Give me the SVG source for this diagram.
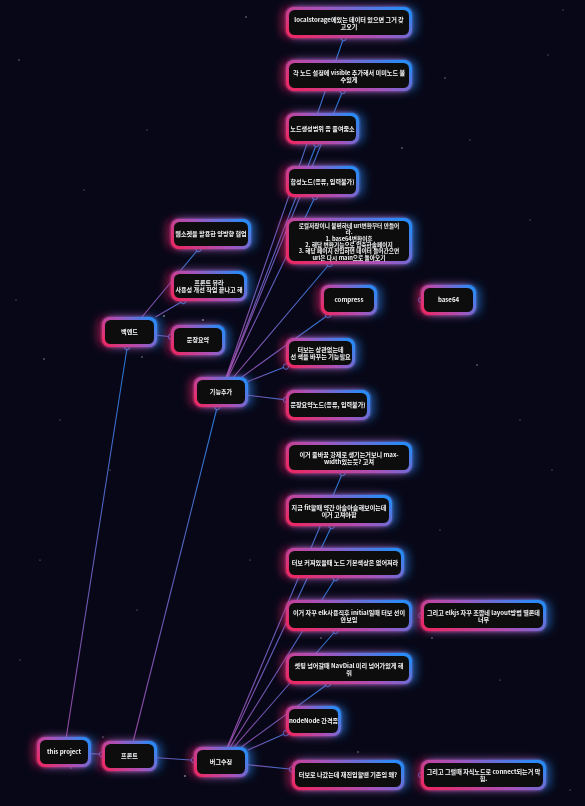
<svg xmlns="http://www.w3.org/2000/svg" width="585" height="806" viewBox="0 0 585 806">
<defs>
<style>
.bd{fill:url(#nb)}
.in{fill:#111}
.t{font-family:"Noto Sans CJK KR","Noto Sans",sans-serif;font-size:6.1px;font-weight:700;fill:#f3f4f6;text-anchor:middle}
.tm{font-size:5.7px}
.e{stroke:url(#eg);stroke-width:1.1;stroke-opacity:.85;fill:none;marker-end:url(#hc)}
.h{fill:#0b0b14;stroke:#2a8af6;stroke-opacity:.8;stroke-width:1}
.node{filter:url(#glow)}
.s{fill:#8a8a9a}
</style>
<linearGradient id="nb" x1="0" y1="0.75" x2="1" y2="0.25">
<stop offset="0" stop-color="#e92a67"/>
<stop offset="0.5" stop-color="#a853ba"/>
<stop offset="1" stop-color="#2a8af6"/>
</linearGradient>
<linearGradient id="eg" x1="0" y1="0" x2="1" y2="0">
<stop offset="0" stop-color="#ae53ba"/>
<stop offset="1" stop-color="#2a8af6"/>
</linearGradient>
<marker id="hc" viewBox="-5 -5 10 10" refX="0" refY="0" markerUnits="userSpaceOnUse" markerWidth="10" markerHeight="10" orient="auto">
<circle r="2.6" fill="#0b0b14" stroke="#2a8af6" stroke-opacity=".8" stroke-width="1"/>
</marker>
<filter id="glow" x="-40%" y="-80%" width="180%" height="260%">
<feGaussianBlur in="SourceAlpha" stdDeviation="4" result="b"/>
<feOffset in="b" dx="-5" result="bl"/>
<feFlood flood-color="#e92a67" flood-opacity="0.5"/>
<feComposite in2="bl" operator="in" result="pink"/>
<feOffset in="b" dx="5" result="br"/>
<feFlood flood-color="#2a8af6" flood-opacity="0.5"/>
<feComposite in2="br" operator="in" result="blue"/>
<feGaussianBlur in="SourceGraphic" stdDeviation="1.5" result="w"/>
<feMerge><feMergeNode in="pink"/><feMergeNode in="blue"/><feMergeNode in="w"/><feMergeNode in="SourceGraphic"/></feMerge>
</filter>
</defs>
<rect width="585" height="806" fill="#070717"/>
<g id="stars">
<circle class="s" cx="246" cy="17" r="0.8"/><circle class="s" cx="19" cy="60" r="0.7"/><circle class="s" cx="445" cy="78" r="0.7"/>
<circle class="s" cx="402" cy="148" r="0.8"/><circle class="s" cx="44" cy="359" r="0.8"/><circle class="s" cx="164" cy="316" r="0.9"/>
<circle class="s" cx="142" cy="357" r="0.8"/><circle class="s" cx="203" cy="320" r="0.9"/><circle class="s" cx="477" cy="365" r="0.8"/>
<circle class="s" cx="321" cy="638" r="0.8"/><circle class="s" cx="432" cy="638" r="0.8"/><circle class="s" cx="103" cy="737" r="0.7"/>
<circle class="s" cx="71" cy="768" r="0.7"/><circle class="s" cx="185" cy="776" r="0.9"/><circle class="s" cx="358" cy="752" r="0.8"/>
<circle class="s" cx="563" cy="10" r="0.6"/><circle class="s" cx="548" cy="55" r="0.6"/><circle class="s" cx="470" cy="140" r="0.6"/>
<circle class="s" cx="147" cy="130" r="0.6"/><circle class="s" cx="84" cy="190" r="0.6"/><circle class="s" cx="530" cy="220" r="0.6"/>
<circle class="s" cx="16" cy="300" r="0.6"/><circle class="s" cx="110" cy="470" r="0.6"/><circle class="s" cx="552" cy="470" r="0.6"/>
<circle class="s" cx="40" cy="560" r="0.6"/><circle class="s" cx="137" cy="610" r="0.6"/><circle class="s" cx="500" cy="680" r="0.6"/>
<circle class="s" cx="570" cy="790" r="0.6"/><circle class="s" cx="520" cy="420" r="0.6"/><circle class="s" cx="60" cy="420" r="0.6"/>
<circle class="s" cx="250" cy="560" r="0.6"/><circle class="s" cx="440" cy="530" r="0.6"/><circle class="s" cx="20" cy="660" r="0.6"/>
</g>
<g id="connectors">
<line class="e" x1="66.3" y1="737" x2="127.2" y2="347"/>
<line class="e" x1="91" y1="753.6" x2="102" y2="754.3"/>
<line class="e" x1="157" y1="757.8" x2="194" y2="760.2"/>
<line class="e" x1="133.3" y1="741" x2="217.2" y2="407"/>
<line class="e" x1="142" y1="317" x2="198.5" y2="249"/>
<line class="e" x1="155.4" y1="317" x2="183.1" y2="301"/>
<line class="e" x1="157" y1="335.2" x2="171" y2="336.8"/>
<line class="e" x1="226.2" y1="377" x2="343.6" y2="38"/>
<line class="e" x1="227.1" y1="377" x2="342.7" y2="91"/>
<line class="e" x1="226.8" y1="377" x2="316.5" y2="144"/>
<line class="e" x1="228.2" y1="377" x2="315" y2="197"/>
<line class="e" x1="233.7" y1="377" x2="329.5" y2="264"/>
<line class="e" x1="241.9" y1="377" x2="328.1" y2="315"/>
<line class="e" x1="248" y1="381.4" x2="286" y2="366.5"/>
<line class="e" x1="248" y1="395.3" x2="286" y2="399.9"/>
<circle class="h" cx="421" cy="300" r="2.6"/>
<line class="e" x1="227.3" y1="747" x2="342.5" y2="473"/>
<line class="e" x1="228" y1="747" x2="331.7" y2="526"/>
<line class="e" x1="230.3" y1="747" x2="335.6" y2="578"/>
<line class="e" x1="234.1" y1="747" x2="335.5" y2="631"/>
<line class="e" x1="241.5" y1="747" x2="327.8" y2="684"/>
<line class="e" x1="248" y1="750" x2="286" y2="733.2"/>
<line class="e" x1="248" y1="764.8" x2="292" y2="769.3"/>
<circle class="h" cx="421" cy="615.5" r="2.6"/>
<circle class="h" cx="421" cy="775" r="2.6"/>
</g>
<g id="n-localstorage" class="node" transform="translate(286,7)"><rect class="bd" width="126" height="31" rx="8"/><rect class="in" x="3" y="3" width="120" height="25" rx="5.5"/><text class="t"><tspan x="63" y="14.7">localstorage에있는 데이터 있으면 그거 갖</tspan><tspan x="63" y="22">고오기</tspan></text></g>
<g id="n-visible" class="node" transform="translate(286,60)"><rect class="bd" width="126" height="31" rx="8"/><rect class="in" x="3" y="3" width="120" height="25" rx="5.5"/><text class="t"><tspan x="63" y="14.7">각 노드 설정에 visible 추가해서 미미노드 볼</tspan><tspan x="63" y="22">수있게</tspan></text></g>
<g id="n-range" class="node" transform="translate(286,113)"><rect class="bd" width="73" height="31" rx="8"/><rect class="in" x="3" y="3" width="67" height="25" rx="5.5"/><text class="t" x="36.5" y="17.8">노드생성범위 좀 줄여줌소</text></g>
<g id="n-composite" class="node" transform="translate(286,166)"><rect class="bd" width="73" height="31" rx="8"/><rect class="in" x="3" y="3" width="67" height="25" rx="5.5"/><text class="t" x="36.5" y="17.8">합성노드(종류, 입력불가)</text></g>
<g id="n-url" class="node" transform="translate(286,218)"><rect class="bd" width="126" height="46" rx="8"/><rect class="in" x="3" y="3" width="120" height="40" rx="5.5"/><text class="t tm"><tspan x="63" y="9.8">로컬저장이니 불편하네 url변환부터 만들어</tspan><tspan x="63" y="16.2">라.</tspan><tspan x="63" y="22.6">1. base64변환이후</tspan><tspan x="63" y="29">2. 해당 변환기능으로 압축한솔페이지</tspan><tspan x="63" y="35.4">3. 해당 페이지 진입하면 데이터 들어간으면</tspan><tspan x="63" y="41.8">url은 다시 main으로 돌아오기</tspan></text></g>
<g id="n-compress" class="node" transform="translate(321,285)"><rect class="bd" width="56" height="30" rx="8"/><rect class="in" x="3" y="3" width="50" height="24" rx="5.5"/><text class="t" x="28" y="17.3">compress</text></g>
<g id="n-base64" class="node" transform="translate(421,285)"><rect class="bd" width="55" height="30" rx="8"/><rect class="in" x="3" y="3" width="49" height="24" rx="5.5"/><text class="t" x="27.5" y="17.3">base64</text></g>
<g id="n-linecolor" class="node" transform="translate(286,338)"><rect class="bd" width="69" height="30" rx="8"/><rect class="in" x="3" y="3" width="63" height="24" rx="5.5"/><text class="t"><tspan x="34.5" y="14">터보는 상관없는데</tspan><tspan x="34.5" y="21.2">선 색을 바꾸는 기능필요</tspan></text></g>
<g id="n-summarynode" class="node" transform="translate(286,390)"><rect class="bd" width="84" height="30" rx="8"/><rect class="in" x="3" y="3" width="78" height="24" rx="5.5"/><text class="t" x="42" y="17.3">문장요약노드(종류, 입력불가)</text></g>
<g id="n-websocket" class="node" transform="translate(171,219)"><rect class="bd" width="80" height="30" rx="8"/><rect class="in" x="3" y="3" width="74" height="24" rx="5.5"/><text class="t" x="40" y="17.3">웹소켓을 활용한 양방향 협업</text></g>
<g id="n-frontview" class="node" transform="translate(171,271)"><rect class="bd" width="76" height="30" rx="8"/><rect class="in" x="3" y="3" width="70" height="24" rx="5.5"/><text class="t"><tspan x="38" y="14">프론트 뷰라</tspan><tspan x="38" y="21.2">사용성 개선 작업 끝나고 해</tspan></text></g>
<g id="n-summary" class="node" transform="translate(171,325)"><rect class="bd" width="54" height="30" rx="8"/><rect class="in" x="3" y="3" width="48" height="24" rx="5.5"/><text class="t" x="27" y="17.3">문장요약</text></g>
<g id="n-backend" class="node" transform="translate(102,317)"><rect class="bd" width="55" height="30" rx="8"/><rect class="in" x="3" y="3" width="49" height="24" rx="5.5"/><text class="t" x="27.5" y="17.3">백엔드</text></g>
<g id="n-features" class="node" transform="translate(194,377)"><rect class="bd" width="54" height="30" rx="8"/><rect class="in" x="3" y="3" width="48" height="24" rx="5.5"/><text class="t" x="27" y="17.3">기능추가</text></g>
<g id="n-maxwidth" class="node" transform="translate(286,442)"><rect class="bd" width="126" height="31" rx="8"/><rect class="in" x="3" y="3" width="120" height="25" rx="5.5"/><text class="t"><tspan x="63" y="14.7">이거 줄바꿈 강제로 생기는거보니 max-</tspan><tspan x="63" y="22">width있는듯? 고쳐</tspan></text></g>
<g id="n-fit" class="node" transform="translate(286,495)"><rect class="bd" width="106" height="31" rx="8"/><rect class="in" x="3" y="3" width="100" height="25" rx="5.5"/><text class="t"><tspan x="53" y="14.7">지금 fit할때 약간 아슬아슬해보이는데</tspan><tspan x="53" y="22">이거 고쳐야함</tspan></text></g>
<g id="n-turbocolor" class="node" transform="translate(286,548)"><rect class="bd" width="118" height="30" rx="8"/><rect class="in" x="3" y="3" width="112" height="24" rx="5.5"/><text class="t" x="59" y="17.3">터보 커져있을때 노드 기본색상은 없어져라</text></g>
<g id="n-elkinit" class="node" transform="translate(286,600)"><rect class="bd" width="126" height="31" rx="8"/><rect class="in" x="3" y="3" width="120" height="25" rx="5.5"/><text class="t"><tspan x="63" y="14.7">이거 자꾸 elk사용직후 initial일때 터보 선이</tspan><tspan x="63" y="22">안보임</tspan></text></g>
<g id="n-elklayout" class="node" transform="translate(421,600)"><rect class="bd" width="125" height="31" rx="8"/><rect class="in" x="3" y="3" width="119" height="25" rx="5.5"/><text class="t"><tspan x="62.5" y="14.7">그리고 elkjs 자꾸 조깝네 layout방법 별론데</tspan><tspan x="62.5" y="22">너무</tspan></text></g>
<g id="n-navdial" class="node" transform="translate(286,653)"><rect class="bd" width="126" height="31" rx="8"/><rect class="in" x="3" y="3" width="120" height="25" rx="5.5"/><text class="t"><tspan x="63" y="14.7">셋팅 넘어갈때 NavDial 미리 넘어가있게 해</tspan><tspan x="63" y="22">줘</tspan></text></g>
<g id="n-nodegap" class="node" transform="translate(286,706)"><rect class="bd" width="55" height="30" rx="8"/><rect class="in" x="3" y="3" width="49" height="24" rx="5.5"/><text class="t" x="27.5" y="17.3">nodeNode 간격좀</text></g>
<g id="n-reenter" class="node" transform="translate(292,760)"><rect class="bd" width="112" height="30" rx="8"/><rect class="in" x="3" y="3" width="106" height="24" rx="5.5"/><text class="t" x="56" y="17.3">터보로 나갔는데 재진입할땐 기존임 왜?</text></g>
<g id="n-connect" class="node" transform="translate(421,760)"><rect class="bd" width="125" height="30" rx="8"/><rect class="in" x="3" y="3" width="119" height="24" rx="5.5"/><text class="t"><tspan x="62.5" y="14">그리고 그럴때 자식노드로 connect되는거 막</tspan><tspan x="62.5" y="21.2">힘.</tspan></text></g>
<g id="n-project" class="node" transform="translate(37,737)"><rect class="bd" width="54" height="30" rx="8"/><rect class="in" x="3" y="3" width="48" height="24" rx="5.5"/><text class="t" x="27" y="17.3">this project</text></g>
<g id="n-front" class="node" transform="translate(102,741)"><rect class="bd" width="55" height="30" rx="8"/><rect class="in" x="3" y="3" width="49" height="24" rx="5.5"/><text class="t" x="27.5" y="17.3">프론트</text></g>
<g id="n-bugfix" class="node" transform="translate(194,747)"><rect class="bd" width="54" height="30" rx="8"/><rect class="in" x="3" y="3" width="48" height="24" rx="5.5"/><text class="t" x="27" y="17.3">버그수정</text></g>
</svg>
